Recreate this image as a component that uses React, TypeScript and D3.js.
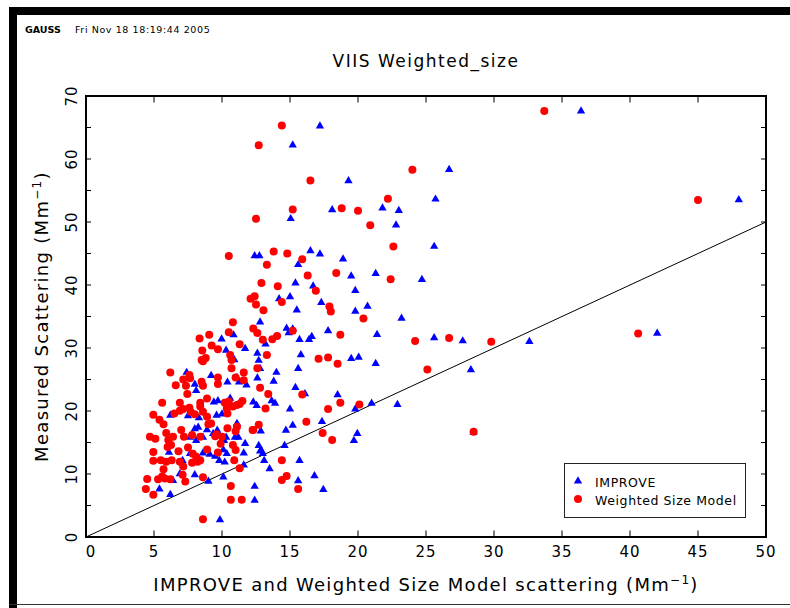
import React from "react";
import * as d3 from "d3";

const improve: [number, number][] = [
  [17.2,65.3],[15.2,62.3],[19.3,56.6],[18.1,52.0],[15.05,50.6],[12.4,44.7],[12.75,44.7],[16.5,45.5],[17.2,45.0],[15.6,43.3],
  [18.9,44.2],[19.5,41.5],[21.3,41.9],[15.4,40.4],[16.7,39.9],[19.8,39.2],[14.2,37.9],[15.0,38.2],
  [36.4,67.7],[26.7,58.4],[25.7,53.7],[21.8,52.3],[23.0,51.9],[22.8,49.6],[25.6,46.2],[24.7,40.95],[48.0,53.6],[42.0,32.4],
  [17.3,37.3],[15.5,36.1],[19.8,35.9],[20.7,36.7],[23.2,34.8],[14.75,33.2],[15.2,33.1],[14.9,32.5],[15.7,31.4],[16.4,31.4],
  [16.6,31.9],[17.8,32.8],[21.4,32.2],[25.6,31.7],[27.7,31.2],[32.6,31.1],
  [15.8,29.0],[15.6,26.8],[19.5,28.4],[20.05,28.6],[21.3,27.6],[28.3,26.6],[15.4,23.8],[16.1,22.8],[18.5,22.65],[21.0,21.3],
  [22.9,21.1],[19.8,20.4],[15.0,20.4],[17.35,18.4],[14.7,17.0],[15.2,17.8],[19.95,16.5],[28.5,16.7],[19.7,15.4],[14.6,14.6],
  [15.7,12.2],[15.6,9.0],[16.8,9.8],[17.45,7.6],
  [12.8,34.2],[10.85,32.15],[9.97,31.5],[10.3,29.7],[11.7,30.0],[13.2,30.7],[10.9,28.2],[12.6,29.25],[12.7,28.1],[12.8,26.8],
  [7.4,26.2],[8.0,24.3],[9.2,25.7],[10.4,24.65],[11.1,25.4],[11.25,24.65],[11.8,24.2],[12.6,25.3],[13.8,24.8],[14.0,26.2],
  [8.1,23.3],[9.4,21.5],[9.7,21.7],[10.6,22.1],[12.3,21.5],[12.55,20.95],[13.65,21.7],[13.9,21.3],[6.2,19.4],[9.6,19.4],
  [10.0,19.6],[11.1,18.1],[8.0,17.25],[8.25,17.5],[8.9,17.1],[10.3,15.9],[11.2,15.9],[6.1,13.5],[5.4,7.7],[6.2,6.8],
  [6.4,9.05],[6.9,10.1],[8.0,9.95],[9.0,8.9],[10.1,9.6],[9.85,2.8],[12.4,8.1],[12.4,5.9],[13.5,10.9],[7.1,12.2],
  [7.65,13.3],[8.6,13.4],[9.1,13.2],[9.5,12.9],[9.8,12.2],[10.1,13.9],[10.35,13.3],[10.2,11.95],[11.6,13.4],[12.8,13.7],
  [13.0,13.3],[13.1,12.2],[11.6,11.5],[7.65,15.9],[8.1,15.4],[8.6,15.9],[9.35,16.5],[9.65,17.0],[10.15,15.4],[10.95,15.9],
  [11.7,14.9],[12.85,16.9],[12.7,14.6],[12.9,13.8],[7.5,19.3],[8.3,19.0]
];

const weighted: [number, number][] = [
  [14.4,65.3],[12.7,62.2],[16.5,56.6],[15.2,52.0],[18.8,52.2],[20.0,51.8],[12.5,50.5],[20.9,49.5],[10.5,44.6],[13.8,45.3],
  [14.8,45.0],[15.9,44.1],[13.3,43.2],[16.3,41.5],[18.4,41.9],[12.9,40.3],[14.1,39.8],[16.9,39.1],[12.1,37.8],[12.4,38.2],
  [12.5,36.9],[14.4,37.3],[24.0,58.3],[22.2,53.7],[22.6,46.1],[22.4,40.9],[33.7,67.6],[45.0,53.5],[40.6,32.3],
  [17.9,36.6],[18.0,35.8],[20.4,34.7],[15.2,32.75],[18.7,32.1],[24.2,31.1],[26.7,31.6],[29.8,31.0],[17.1,28.3],[17.8,28.5],
  [18.5,27.5],[25.1,26.6],[15.9,22.6],[18.7,21.3],[20.1,21.05],[17.8,20.3],[16.2,18.3],[17.4,16.5],[28.5,16.7],[18.1,15.4],
  [14.4,12.2],[14.75,9.7],[14.4,9.05],[15.6,7.6],
  [13.05,36.0],[10.8,34.1],[12.3,33.1],[12.6,32.4],[10.5,32.5],[9.06,32.1],[8.35,31.5],[13.0,31.3],[13.7,31.4],[14.05,31.9],
  [9.24,30.4],[9.7,29.8],[11.3,30.6],[8.55,29.6],[10.6,28.9],[10.7,28.1],[10.7,26.8],[8.5,28.1],[8.8,28.4],[8.6,27.9],
  [13.3,28.9],[12.6,26.8],[6.2,26.1],[7.15,25.0],[7.6,25.7],[7.65,25.2],[6.6,24.1],[7.35,24.0],[9.7,25.3],[8.5,24.65],
  [8.6,24.0],[9.7,24.3],[11.0,25.3],[11.6,26.1],[11.6,24.9],[12.8,23.7],[13.4,22.7],[7.45,22.7],[5.6,21.3],[6.9,21.3],
  [8.4,21.3],[8.4,20.7],[8.9,22.0],[10.2,21.3],[10.5,21.5],[10.35,20.4],[10.8,20.7],[11.1,20.95],[11.3,21.1],[11.5,21.6],
  [13.2,20.4],[4.95,19.4],[5.4,18.6],[5.7,17.9],[6.5,19.6],[6.9,20.05],[7.15,20.3],[7.6,20.5],[7.7,19.9],[8.0,19.5],
  [8.6,19.9],[8.9,19.1],[9.2,18.0],[10.4,19.6],[10.4,17.25],[11.0,16.8],[12.3,17.0],[12.7,17.8],[5.9,16.5],[6.4,15.9],
  [7.0,17.0],[7.2,15.9],[4.7,15.9],[7.8,16.2],[8.4,15.9],[9.5,16.0],[10.0,15.9],[5.1,15.6],[4.95,13.5],[4.95,12.1],
  [5.5,12.2],[5.9,11.95],[6.3,12.2],[5.7,10.75],[4.5,9.2],[4.4,7.6],[4.95,6.7],[5.3,9.15],[5.6,9.6],[5.8,9.3],
  [6.2,9.15],[7.1,9.9],[7.3,8.8],[8.6,9.5],[8.6,2.8],[10.65,8.1],[10.65,5.9],[11.45,5.9],[6.9,11.95],[7.15,11.2],
  [7.85,13.2],[8.1,12.75],[8.2,11.95],[8.4,12.2],[7.8,11.8],[9.7,13.4],[10.9,12.2],[11.0,13.8],[11.3,10.9],[6.05,15.4],
  [6.25,14.6],[6.0,14.3],[9.0,17.9],[9.6,16.3],[11.1,17.5],[10.8,14.6],[12.25,17.0],[6.8,13.6],[7.5,14.2],[9.9,14.8],[8.9,13.9]
];

const xTicks = [0, 5, 10, 15, 20, 25, 30, 35, 40, 45, 50];
const yTicks = [0, 10, 20, 30, 40, 50, 60, 70];
const yMinorTicks = [0, 5, 10, 15, 20, 25, 30, 35, 40, 45, 50, 55, 60, 65, 70];
const refLine: [number, number][] = [[0, 0], [50, 50]];

const title = "VIIS Weighted_size";
const header1 = "GAUSS";
const header2 = "Fri Nov 18 18:19:44 2005";
const seriesNames = ["IMPROVE", "Weighted Size Model"];

const W = 790, H = 608;
const L = 86, R = 766, T = 96, B = 537;
const FONT = "'DejaVu Sans', sans-serif";

export default function App() {
  const x = d3.scaleLinear().domain([0, 50]).range([L, R]);
  const y = d3.scaleLinear().domain([0, 70]).range([B, T]);
  const line = d3.line<[number, number]>().x(d => x(d[0])).y(d => y(d[1]));
  const tri = d3.symbol().type(d3.symbolTriangle).size(30)();
  return (
    <svg width={W} height={H} style={{ position: "absolute", left: 0, top: 0, background: "#fff" }}>
      <rect x={0} y={0} width={W} height={H} fill="#fff" />
      {/* outer frame */}
      <rect x={9} y={7} width={W - 9} height={8} fill="#000" />
      <rect x={9} y={7} width={8} height={H - 7} fill="#000" />
      <line x1={9} x2={W} y1={604.5} y2={604.5} stroke="#333" strokeWidth={1} />
      <text x={25} y={33} fontFamily={FONT} fontSize={9.5} fontWeight="bold">{header1}</text>
      <text x={75} y={33} fontFamily={FONT} fontSize={9.5} letterSpacing={0.6}>{header2}</text>
      <text x={(L + R) / 2} y={67} textAnchor="middle" fontFamily={FONT} fontSize={17} letterSpacing={1.5}>{title}</text>
      {/* ref line */}
      <path d={line(refLine) || ""} stroke="#000" strokeWidth={1} fill="none" />
      {/* points */}
      {improve.map((d, i) => (
        <path key={"b" + i} d={tri || ""} transform={`translate(${x(d[0])},${y(d[1]) + 0.5})`} fill="#0000ff" />
      ))}
      {weighted.map((d, i) => (
        <circle key={"r" + i} cx={x(d[0])} cy={y(d[1])} r={4} fill="#ff0000" />
      ))}
      {/* ticks */}
      {xTicks.map(t => (
        <g key={"xt" + t}>
          <line x1={x(t)} x2={x(t)} y1={B} y2={B - 6.5} stroke="#000" strokeWidth={1} />
          <line x1={x(t)} x2={x(t)} y1={T} y2={T + 6.5} stroke="#000" strokeWidth={1} />
          <text x={x(t) + (t === 0 ? 5 : 0)} y={557} textAnchor="middle" fontFamily={FONT} fontSize={15} letterSpacing={1}>{t}</text>
        </g>
      ))}
      {yMinorTicks.map(t => (
        <g key={"yt" + t}>
          <line x1={L} x2={L + 5} y1={y(t)} y2={y(t)} stroke="#000" strokeWidth={1} />
          <line x1={R} x2={R - 5} y1={y(t)} y2={y(t)} stroke="#000" strokeWidth={1} />
        </g>
      ))}
      {yTicks.map(t => (
        <text key={"yl" + t} transform={`translate(${77},${y(t)}) rotate(-90)`} textAnchor="middle" fontFamily={FONT} fontSize={15} letterSpacing={1}>{t}</text>
      ))}
      {/* frame */}
      <rect x={L} y={T} width={R - L} height={B - T} fill="none" stroke="#000" strokeWidth={2} />
      {/* axis titles */}
      <text x={(L + R) / 2} y={591} textAnchor="middle" fontFamily={FONT} fontSize={18} letterSpacing={1.3}>
        IMPROVE and Weighted Size Model scattering (Mm<tspan dy={-7} fontSize={12}>−1</tspan><tspan dy={7}>)</tspan>
      </text>
      <text transform={`translate(${48},${(T + B) / 2}) rotate(-90)`} textAnchor="middle" fontFamily={FONT} fontSize={18} letterSpacing={1.3}>
        Measured Scattering (Mm<tspan dy={-7} fontSize={12}>−1</tspan><tspan dy={7}>)</tspan>
      </text>
      {/* legend */}
      <rect x={564.5} y={463.5} width={181} height={54} fill="#fff" stroke="#222" strokeWidth={1} />
      <path d={tri || ""} transform="translate(578,481)" fill="#0000ff" />
      <circle cx={578} cy={499} r={4} fill="#ff0000" />
      <text x={595} y={487} fontFamily={FONT} fontSize={12.5} letterSpacing={0.6}>{seriesNames[0]}</text>
      <text x={595} y={505} fontFamily={FONT} fontSize={12.5} letterSpacing={0.6}>{seriesNames[1]}</text>
    </svg>
  );
}
